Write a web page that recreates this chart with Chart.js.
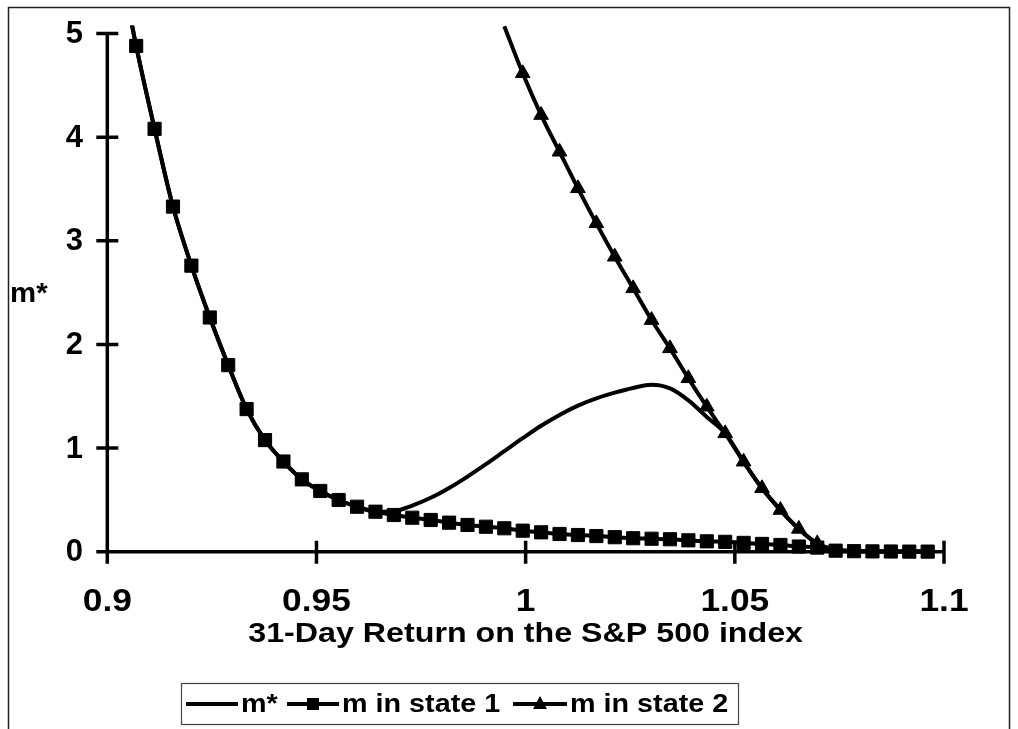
<!DOCTYPE html>
<html>
<head>
<meta charset="utf-8">
<script src="https://cdn.jsdelivr.net/npm/chart.js@4.4.1/dist/chart.umd.min.js"></script>
<style>
html,body{margin:0;padding:0;background:#fff;overflow:hidden;}
#c{position:absolute;left:0;top:0;}
</style>
</head>
<body>
<canvas id="c" width="1018" height="729"></canvas>
<script>
// ---- data ----
const xReturns = [0.9025, 0.9069, 0.9113, 0.9157, 0.9201, 0.9245, 0.9289, 0.9333, 0.9377, 0.9421,
  0.9465, 0.9509, 0.9553, 0.9597, 0.9641, 0.9685, 0.9729, 0.9773, 0.9817, 0.9861,
  0.9905, 0.9949, 0.9993, 1.0037, 1.0081, 1.0125, 1.0169, 1.0213, 1.0257, 1.0301,
  1.0345, 1.0389, 1.0433, 1.0477, 1.0521, 1.0565, 1.0609, 1.0653, 1.0697, 1.0741,
  1.0785, 1.0829, 1.0873, 1.0917, 1.0961];

const mStar = [5.8, 4.88, 4.08, 3.33, 2.76, 2.26, 1.80, 1.376, 1.077, 0.870,
  0.698, 0.586, 0.499, 0.434, 0.386, 0.39, 0.445, 0.52, 0.615, 0.725,
  0.845, 0.97, 1.095, 1.215, 1.32, 1.41, 1.48, 1.535, 1.58, 1.61,
  1.575, 1.46, 1.30, 1.142, 0.868, 0.612, 0.402, 0.22, 0.08, 0.02,
  0.005, 0.003, 0.002, 0.001, 0.001];

const mState1 = [5.8, 4.88, 4.08, 3.33, 2.76, 2.26, 1.80, 1.376, 1.077, 0.870,
  0.698, 0.586, 0.499, 0.434, 0.386, 0.354, 0.328, 0.306, 0.280, 0.258,
  0.241, 0.226, 0.203, 0.187, 0.171, 0.161, 0.151, 0.14, 0.13, 0.125,
  0.12, 0.11, 0.10, 0.095, 0.085, 0.075, 0.065, 0.05, 0.04, 0.01,
  0.005, 0.003, 0.002, 0.001, 0.001];

const mState2 = [null, null, null, null, null, null, null, null, null, null,
  null, null, null, null, null, null, null, null, null, null,
  null, 5.07, 4.616, 4.213, 3.859, 3.506, 3.168, 2.846, 2.541, 2.235,
  1.962, 1.673, 1.399, 1.142, 0.868, 0.612, 0.402, 0.22, 0.08, 0.02,
  0.01, 0.005, 0.002, 0.001, 0.001];

const xTicks = [0.9, 0.95, 1, 1.05, 1.1];
const yTicks = [0, 1, 2, 3, 4, 5];
const xTickLabels = ['0.9', '0.95', '1', '1.05', '1.1'];
const yTickLabels = ['0', '1', '2', '3', '4', '5'];
const seriesNames = ['m*', 'm in state 1', 'm in state 2'];
const xTitle = '31-Day Return on the S&P 500 index';
const yTitle = 'm*';

// ---- helpers ----
const FONT = '"Liberation Sans", Arial, sans-serif';
function txt(ctx, s, x, y, size, align, sx) {
  ctx.save();
  ctx.translate(x, y);
  ctx.scale(sx, 1);
  ctx.font = 'bold ' + size + 'px ' + FONT;
  ctx.textAlign = align;
  ctx.textBaseline = 'middle';
  ctx.fillStyle = '#000';
  ctx.fillText(s, 0, 0);
  ctx.restore();
}
function pts(arr) { return xReturns.map((x, i) => ({x: x, y: arr[i]})); }

const LINE_W = 4;
const clipTop = {left: 2, top: 8, right: 2, bottom: 12};

const decor = {
  id: 'decor',
  beforeDatasetsDraw(chart) {
    const ctx = chart.ctx, xs = chart.scales.x, ys = chart.scales.y;
    const xL = xs.getPixelForValue(xTicks[0]), xR = xs.getPixelForValue(xTicks[xTicks.length - 1]);
    const yB = ys.getPixelForValue(0), yT = ys.getPixelForValue(yTicks[yTicks.length - 1]);
    ctx.save();
    ctx.strokeStyle = '#000';
    ctx.lineWidth = 3.5;
    ctx.lineCap = 'butt';
    ctx.beginPath();
    ctx.moveTo(xL, yT); ctx.lineTo(xL, yB + 12);
    ctx.moveTo(xL - 11, yB); ctx.lineTo(xR, yB);
    yTicks.forEach(v => { const p = ys.getPixelForValue(v); ctx.moveTo(xL - 11, p); ctx.lineTo(xL + 11, p); });
    xTicks.forEach(v => { const p = xs.getPixelForValue(v); ctx.moveTo(p, yB - 11); ctx.lineTo(p, yB + 12); });
    ctx.stroke();
    ctx.restore();
  },
  afterDraw(chart) {
    const ctx = chart.ctx, xs = chart.scales.x, ys = chart.scales.y;
    // outer frame
    ctx.save();
    ctx.strokeStyle = '#222';
    ctx.lineWidth = 1.5;
    ctx.strokeRect(8.5, 7.5, 1001, 760);
    ctx.restore();
    // tick labels
    yTicks.forEach((v, i) => txt(ctx, yTickLabels[i], 83, ys.getPixelForValue(v) + 1, 31, 'right', 1.0));
    xTicks.forEach((v, i) => txt(ctx, xTickLabels[i], xs.getPixelForValue(v), 602, 31, 'center', 1.14));
    // axis titles
    txt(ctx, xTitle, (xs.left + xs.right) / 2, 634, 28, 'center', 1.15);
    txt(ctx, yTitle, 10, 294, 28, 'left', 1.05);
    // legend
    ctx.save();
    ctx.strokeStyle = '#444';
    ctx.lineWidth = 1.2;
    ctx.strokeRect(181.5, 683.5, 557, 41);
    ctx.strokeStyle = '#000';
    ctx.fillStyle = '#000';
    ctx.lineWidth = LINE_W;
    const ly = 704;
    const items = [
      {x0: 186, x1: 238, tx: 241, mk: null},
      {x0: 287, x1: 339, tx: 342, mk: 'rect'},
      {x0: 513, x1: 567, tx: 570, mk: 'tri'}
    ];
    items.forEach((it, k) => {
      ctx.beginPath(); ctx.moveTo(it.x0, ly); ctx.lineTo(it.x1, ly); ctx.stroke();
      const cx = (it.x0 + it.x1) / 2;
      if (it.mk === 'rect') { ctx.fillRect(cx - 6, ly - 6, 12, 12); }
      if (it.mk === 'tri') { ctx.beginPath(); ctx.moveTo(cx, ly - 8); ctx.lineTo(cx + 7, ly + 5); ctx.lineTo(cx - 7, ly + 5); ctx.closePath(); ctx.fill(); }
      txt(ctx, seriesNames[k], it.tx, ly + 1, 25, 'left', 1.15);
    });
    ctx.restore();
  }
};

new Chart(document.getElementById('c'), {
  type: 'line',
  data: {
    datasets: [
      {
        label: seriesNames[0], data: pts(mStar),
        borderColor: '#000', borderWidth: LINE_W, pointRadius: 0,
        cubicInterpolationMode: 'monotone', clip: clipTop, order: 2, spanGaps: false
      },
      {
        label: seriesNames[1], data: pts(mState1),
        borderColor: '#000', borderWidth: LINE_W,
        pointStyle: 'rect', pointRadius: mState1.map((v, i) => i === 0 ? 0 : 9.3),
        pointBackgroundColor: '#000', pointBorderColor: '#000', pointBorderWidth: 1,
        cubicInterpolationMode: 'monotone', clip: clipTop, order: 0
      },
      {
        label: seriesNames[2], data: pts(mState2),
        borderColor: '#000', borderWidth: LINE_W,
        pointStyle: 'triangle', pointRadius: mState2.map((v, i) => (v === null || v > 5 || i > 38) ? 0 : 8.5),
        pointBackgroundColor: '#000', pointBorderColor: '#000', pointBorderWidth: 1,
        cubicInterpolationMode: 'monotone', clip: clipTop, order: 1, spanGaps: false
      }
    ]
  },
  options: {
    responsive: false,
    animation: false,
    events: [],
    layout: {padding: {left: 0, right: 74, top: 33.5, bottom: 0}},
    scales: {
      x: {
        type: 'linear', min: xTicks[0], max: xTicks[xTicks.length - 1],
        afterBuildTicks: s => { s.ticks = xTicks.map(v => ({value: v})); },
        grid: {display: false}, border: {display: false}, ticks: {display: false},
        afterFit: s => { s.height = 729 - 551.7; }
      },
      y: {
        type: 'linear', min: yTicks[0], max: yTicks[yTicks.length - 1],
        afterBuildTicks: s => { s.ticks = yTicks.map(v => ({value: v})); },
        grid: {display: false}, border: {display: false}, ticks: {display: false},
        afterFit: s => { s.width = 107.3; }
      }
    },
    plugins: {legend: {display: false}, tooltip: {enabled: false}}
  },
  plugins: [decor]
});
</script>
</body>
</html>
